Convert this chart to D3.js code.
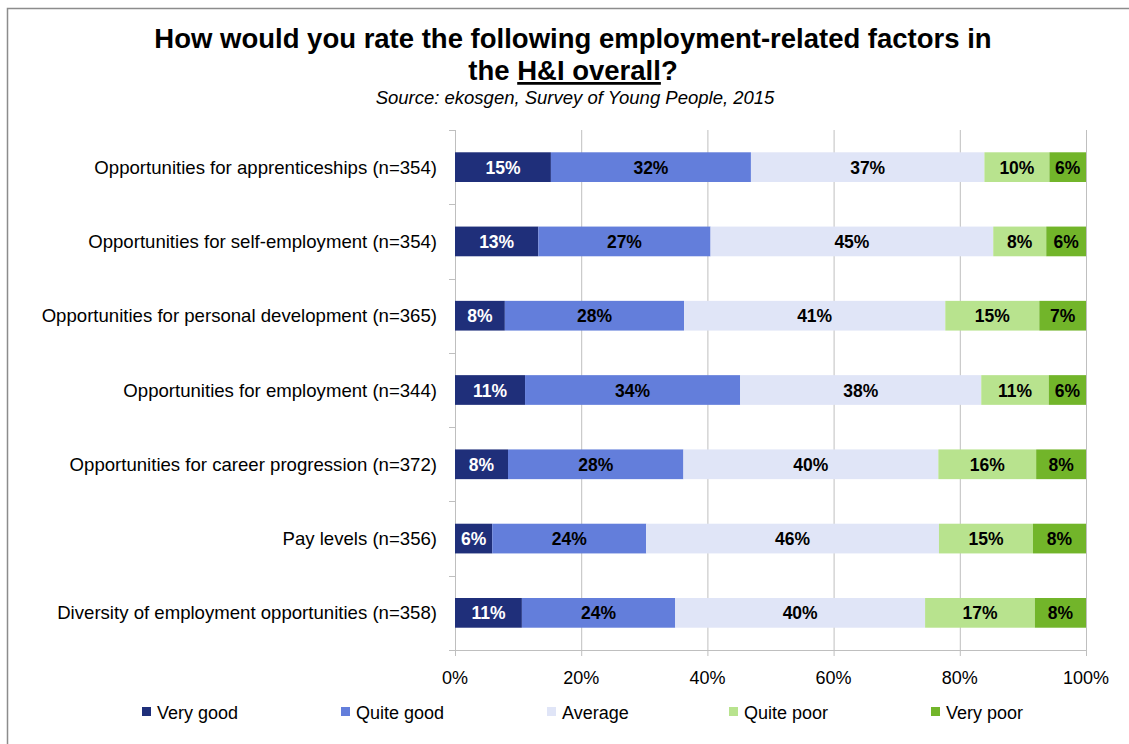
<!DOCTYPE html>
<html>
<head>
<meta charset="utf-8">
<script src="https://cdn.jsdelivr.net/npm/d3@7"></script>
<style>
  html, body { margin: 0; padding: 0; background: #fff; }
  svg { display: block; font-family: "Liberation Sans", Arial, sans-serif; }
</style>
</head>
<body>
<svg id="chart" width="1129" height="744"></svg>
<script>
// ---- Data (percent of respondents) ----
const categories = [
  "Opportunities for apprenticeships (n=354)",
  "Opportunities for self-employment (n=354)",
  "Opportunities for personal development (n=365)",
  "Opportunities for employment (n=344)",
  "Opportunities for career progression (n=372)",
  "Pay levels (n=356)",
  "Diversity of employment opportunities (n=358)"
];
const seriesNames = ["Very good", "Quite good", "Average", "Quite poor", "Very poor"];
const veryGood  = [15.2, 13.2,  7.9, 11.1,  8.4,  5.9, 10.6];
const quiteGood = [31.7, 27.3, 28.4, 34.1, 27.8, 24.4, 24.3];
const average   = [37.0, 44.8, 41.4, 38.2, 40.4, 46.4, 39.6];
const quitePoor = [10.3,  8.4, 14.9, 10.7, 15.5, 14.9, 17.4];
const veryPoor  = [ 5.8,  6.3,  7.4,  5.9,  7.9,  8.4,  8.1];
const xTicks = [0, 20, 40, 60, 80, 100];

const seriesValues = [veryGood, quiteGood, average, quitePoor, veryPoor];
const colors = ["#1f2f7a", "#637edb", "#e0e5f7", "#b8e38e", "#72b52a"];
const labelColors = ["#ffffff", "#000000", "#000000", "#000000", "#000000"];

const rows = categories.map((c, i) => {
  const o = { category: c };
  seriesNames.forEach((s, j) => o[s] = seriesValues[j][i]);
  return o;
});

const svg = d3.select("#chart");

// Frame
svg.append("path")
  .attr("d", "M7.5,744 L7.5,8.5 L1129,8.5")
  .attr("fill", "none").attr("stroke", "#8c8c8c").attr("stroke-width", 1.5);

// Titles
const title = svg.append("text").attr("text-anchor", "middle")
  .attr("font-weight", "bold").attr("font-size", 27.5).attr("fill", "#000");
title.append("tspan").attr("x", 573).attr("y", 48)
  .text("How would you rate the following employment-related factors in");
const l2 = title.append("tspan").attr("x", 573).attr("y", 80);
l2.append("tspan").text("the ");
l2.append("tspan").attr("text-decoration", "underline").text("H&I overall");
l2.append("tspan").text("?");

svg.append("text").attr("x", 575).attr("y", 104).attr("text-anchor", "middle")
  .attr("font-style", "italic").attr("font-size", 18.5)
  .text("Source: ekosgen, Survey of Young People, 2015");

// Scales
const x = d3.scaleLinear().domain([0, 100]).range([455, 1086]);
const y = d3.scaleBand().domain(categories).range([130, 650])
  .paddingInner(0.6).paddingOuter(0.3);

// Gridlines
svg.append("g").selectAll("line").data(xTicks).join("line")
  .attr("x1", d => x(d) + 0.5).attr("x2", d => x(d) + 0.5)
  .attr("y1", 130).attr("y2", 656)
  .attr("stroke", "#bfbfbf").attr("stroke-width", 1);

// Bottom axis line
svg.append("line").attr("x1", 449).attr("x2", x(100) + 1)
  .attr("y1", 650.5).attr("y2", 650.5)
  .attr("stroke", "#bfbfbf").attr("stroke-width", 1);

// Left axis ticks at band boundaries
const boundaries = d3.range(categories.length + 1).map(i => 130 + i * (520 / categories.length));
svg.append("g").selectAll("line").data(boundaries).join("line")
  .attr("x1", 449).attr("x2", 455)
  .attr("y1", d => Math.round(d) + 0.5).attr("y2", d => Math.round(d) + 0.5)
  .attr("stroke", "#bfbfbf");

// X tick labels
svg.append("g").selectAll("text").data(xTicks).join("text")
  .attr("x", d => x(d)).attr("y", 684).attr("text-anchor", "middle")
  .attr("font-size", 18).attr("fill", "#000")
  .text(d => d + "%");

// Category labels
svg.append("g").selectAll("text").data(categories).join("text")
  .attr("x", 437).attr("y", d => y(d) + y.bandwidth() / 2 + 6.5)
  .attr("text-anchor", "end").attr("font-size", 18.6).attr("fill", "#000")
  .text(d => d);

// Stacked bars
const stack = d3.stack().keys(seriesNames)(rows);
const groups = svg.append("g").selectAll("g").data(stack).join("g")
  .attr("fill", (d, i) => colors[i]);
groups.selectAll("rect").data(d => d).join("rect")
  .attr("x", d => x(d[0])).attr("width", d => x(d[1]) - x(d[0]))
  .attr("y", d => y(d.data.category)).attr("height", y.bandwidth());

// Value labels
svg.append("g").selectAll("g").data(stack).join("g")
  .each(function (s, i) {
    d3.select(this).selectAll("text").data(s).join("text")
      .attr("x", d => (x(d[0]) + x(d[1])) / 2)
      .attr("y", d => y(d.data.category) + y.bandwidth() / 2 + 6.5)
      .attr("text-anchor", "middle").attr("font-weight", "bold")
      .attr("font-size", 17.5).attr("fill", labelColors[i])
      .text(d => Math.round(d[1] - d[0]) + "%");
  });

// Legend
const legendX = [142, 341, 547, 729, 931];
const lg = svg.append("g").selectAll("g").data(seriesNames).join("g")
  .attr("transform", (d, i) => `translate(${legendX[i]},712)`);
lg.append("rect").attr("x", 0).attr("y", -5).attr("width", 9).attr("height", 9)
  .attr("fill", (d, i) => colors[i]);
lg.append("text").attr("x", 15).attr("y", 6.5).attr("font-size", 18).attr("fill", "#000")
  .text(d => d);
</script>
</body>
</html>
